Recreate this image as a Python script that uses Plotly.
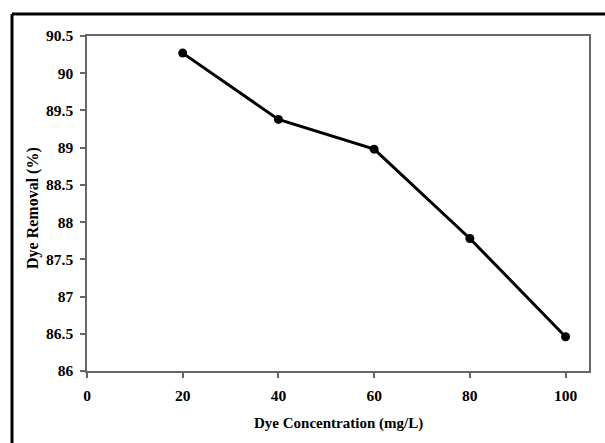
import plotly.graph_objects as go

conc = [20, 40, 60, 80, 100]
removal = [90.27, 89.38, 88.98, 87.78, 86.46]
x_ticks = [0, 20, 40, 60, 80, 100]
y_ticks = [86, 86.5, 87, 87.5, 88, 88.5, 89, 89.5, 90, 90.5]
y_tick_labels = ["86", "86.5", "87", "87.5", "88", "88.5", "89", "89.5", "90", "90.5"]

fig = go.Figure()
fig.add_trace(go.Scatter(
    x=conc, y=removal, mode="lines+markers",
    line=dict(color="black", width=3),
    marker=dict(color="black", size=9),
    showlegend=False, cliponaxis=False,
))

font_tick = dict(family="Liberation Serif", size=15.5, color="black", weight="bold")

fig.update_layout(
    width=605, height=443,
    margin=dict(l=87, r=16, t=36, b=72),
    paper_bgcolor="white", plot_bgcolor="white",
    xaxis=dict(
        range=[0, 104.9], tickvals=x_ticks, ticktext=[str(v) for v in x_ticks],
        showgrid=False, zeroline=False,
        showline=True, linecolor="#666", linewidth=1.5, mirror=True,
        ticks="outside", ticklen=5, tickcolor="#666", tickwidth=1.5,
        tickfont=font_tick, ticklabelstandoff=5,
    ),
    yaxis=dict(
        range=[86, 90.5], tickvals=y_ticks, ticktext=y_tick_labels,
        showgrid=False, zeroline=False,
        showline=True, linecolor="#666", linewidth=1.5, mirror=True,
        ticks="outside", ticklen=5, tickcolor="#666", tickwidth=1.5,
        tickfont=font_tick, ticklabelstandoff=4,
    ),
    annotations=[
        dict(text="Dye Concentration (mg/L)", xref="paper", yref="paper",
             x=0.5, y=(371 - 423) / 335, xanchor="center", yanchor="middle",
             showarrow=False,
             font=dict(family="Liberation Serif", size=15, color="black", weight="bold")),
        dict(text="Dye Removal (%)", xref="paper", yref="paper",
             x=(33 - 87) / 502, y=(371 - 208) / 335, xanchor="center", yanchor="middle",
             textangle=-90, showarrow=False,
             font=dict(family="Liberation Serif", size=16, color="black", weight="bold")),
    ],
    shapes=[
        dict(type="line", xref="paper", yref="paper",
             x0=(12 - 87) / 502, x1=(610 - 87) / 502,
             y0=(371 - 14) / 335, y1=(371 - 14) / 335,
             line=dict(color="black", width=3)),
        dict(type="line", xref="paper", yref="paper",
             x0=(12 - 87) / 502, x1=(12 - 87) / 502,
             y0=(371 - 14) / 335, y1=(371 - 450) / 335,
             line=dict(color="black", width=3)),
    ],
)

fig.write_html("out.html")
